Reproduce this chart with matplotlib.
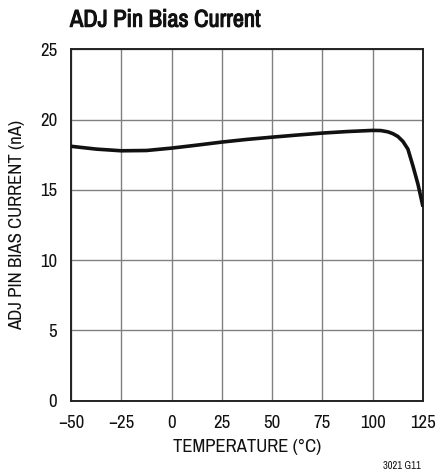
import matplotlib
matplotlib.use("Agg")
import matplotlib.pyplot as plt
from matplotlib import font_manager
from matplotlib import patheffects as pe

# Data
temperature = [-50, -37.5, -25, -12.5, 0, 12.5, 25, 37.5, 50, 62.5, 75, 87.5,
               100, 104, 107.5, 110, 112.5, 115, 117.5, 120, 122.5, 125]
bias_current = [18.1, 17.9, 17.78, 17.8, 17.97, 18.18, 18.4, 18.59, 18.75, 18.9,
                19.04, 19.15, 19.23, 19.22, 19.13, 19.0, 18.8, 18.45, 17.9, 16.7, 15.4, 13.8]
x_ticks = [-50, -25, 0, 25, 50, 75, 100, 125]
x_tick_labels = ["\u221250", "\u221225", "0", "25", "50", "75", "100", "125"]
y_ticks = [0, 5, 10, 15, 20, 25]

entries = font_manager.fontManager.ttflist
names = sorted({f.name for f in entries})
cond = [n for n in names if ("Condensed" in n or "Narrow" in n)]
fam = cond[:1] + [f for f in ["Roboto", "Liberation Sans", "DejaVu Sans"] if f in names]
plt.rcParams['font.family'] = fam
small = not cond

if cond:
    title_fp = font_manager.FontProperties(family=fam, size=17.5)
    title_fx = [pe.withStroke(linewidth=0.8, foreground="#111111")]
else:
    title_fp = font_manager.FontProperties(family=fam, weight="bold", size=15.5)
    title_fx = []

fig = plt.figure(figsize=(4.36, 4.74), dpi=100)
ax = fig.add_axes([71/436, 1 - 400.7/474, 352/436, 351.4/474])

ax.plot(temperature, bias_current, color="#111111", lw=2.6, solid_capstyle="butt",
        solid_joinstyle="round", zorder=3)

fs = 12 if small else 13.5
ax.set_xlim(-50, 125)
ax.set_ylim(0, 25)
ax.set_xticks(x_ticks)
ax.set_xticklabels(x_tick_labels)
ax.set_yticks(y_ticks)
ax.grid(True, color="#808080", lw=1.0)
ax.tick_params(length=0, labelsize=fs, pad=10, colors="#111111")
ax.tick_params(axis="y", pad=10)
for s in ax.spines.values():
    s.set_linewidth(1.4)
    s.set_color("#222222")

ax.set_xlabel("TEMPERATURE (\u00b0C)", fontsize=fs, labelpad=6, color="#111111")
ax.set_ylabel("ADJ PIN BIAS CURRENT (nA)", fontsize=fs, labelpad=11, color="#111111")

t = fig.text(70/436, 1 - 26.7/474, "ADJ Pin Bias Current", fontproperties=title_fp,
             ha="left", va="baseline", color="#111111")
if title_fx:
    t.set_path_effects(title_fx)
fig.text(421/436, 1 - 466/474, "3021 G11", fontsize=7.5, ha="right", va="center", color="#111111")

fig.savefig("out.png", dpi=100)
